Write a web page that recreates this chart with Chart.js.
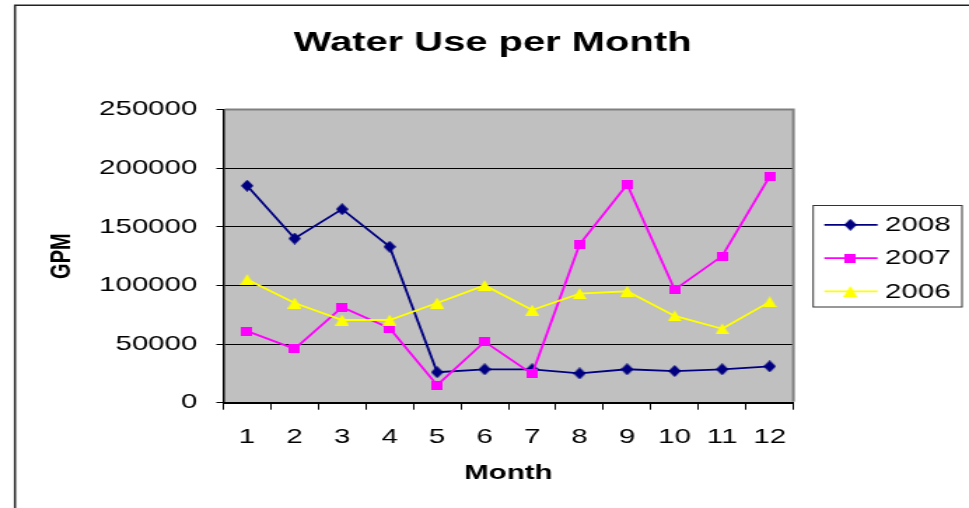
<!DOCTYPE html>
<html>
<head>
<meta charset="utf-8">
<script src="https://cdn.jsdelivr.net/npm/chart.js@4.4.1/dist/chart.umd.min.js"></script>
<style>
html,body{margin:0;padding:0;background:#fff;overflow:hidden;}
#wrap{width:692px;height:508px;transform:scaleX(1.40029);transform-origin:0 0;}
canvas{display:block;}
</style>
</head>
<body>
<div id="wrap"><canvas id="c" width="692" height="508" style="width:692px;height:508px"></canvas></div>
<script>
// ---- data ----
const months = ['1','2','3','4','5','6','7','8','9','10','11','12'];
const seriesLabels = ['2008','2007','2006'];
const values2008 = [185000,140000,165000,133000,26000,28500,28500,25000,28500,27000,28500,31000];
const values2007 = [61000,46000,81500,63500,15000,52000,24500,135000,186000,96500,125000,193000];
const values2006 = [105000,85000,70500,70500,85000,100000,79000,93000,95000,74000,63000,86000];
const yTickValues = [0,50000,100000,150000,200000,250000];
const titleText = 'Water Use per Month';
const xTitle = 'Month';
const yTitle = 'GPM';

const FONT = '"Liberation Sans", Arial, sans-serif';

function makeMarker(shape, w, h, color) {
  const c = document.createElement('canvas');
  c.width = w; c.height = h;
  const g = c.getContext('2d');
  g.fillStyle = color;
  g.beginPath();
  if (shape === 'diamond') {
    g.moveTo(w/2, 0); g.lineTo(w, h/2); g.lineTo(w/2, h); g.lineTo(0, h/2);
  } else if (shape === 'square') {
    g.rect(0, 0, w, h);
  } else {
    g.moveTo(w/2, 0); g.lineTo(w, h); g.lineTo(0, h);
  }
  g.closePath();
  g.fill();
  return c;
}

const mDiamond = makeMarker('diamond', 9, 12, '#000080');
const mSquare = makeMarker('square', 8, 9, '#FF00FF');
const mTri = makeMarker('tri', 10, 11, '#FFFF00');

const framePlugin = {
  id: 'frame',
  beforeDraw(chart) {
    const {ctx, chartArea: a, width, height} = chart;
    ctx.save();
    ctx.fillStyle = '#fff';
    ctx.fillRect(0, 0, width, height);
    ctx.strokeStyle = '#222';
    ctx.lineWidth = 1.5;
    ctx.beginPath();
    ctx.moveTo(10.7, height + 5);
    ctx.lineTo(10.7, 5.2);
    ctx.lineTo(width + 5, 5.2);
    ctx.stroke();
    ctx.fillStyle = '#C0C0C0';
    ctx.fillRect(a.left, a.top, a.right - a.left, a.bottom - a.top);
    ctx.restore();
  },
  beforeDatasetsDraw(chart) {
    const {ctx, chartArea: a} = chart;
    ctx.save();
    ctx.strokeStyle = '#808080';
    ctx.lineWidth = 2;
    ctx.beginPath();
    ctx.moveTo(a.left + 1, a.top);
    ctx.lineTo(a.right, a.top);
    ctx.lineTo(a.right, a.bottom - 1);
    ctx.stroke();
    ctx.restore();
  },
  afterDraw(chart) {
    const {ctx, chartArea: a} = chart;
    const lx = a.right + 14.1, ly = a.top + 96;
    ctx.save();
    ctx.strokeStyle = '#333';
    ctx.lineWidth = 1;
    ctx.strokeRect(lx, ly, 106.3, 101.5);
    chart.data.datasets.forEach((ds, i) => {
      const y = ly + 19.3 + i * 33.3;
      ctx.strokeStyle = ds.borderColor;
      ctx.lineWidth = 1.8;
      ctx.beginPath();
      ctx.moveTo(lx + 8, y);
      ctx.lineTo(lx + 46, y);
      ctx.stroke();
      const img = ds.pointStyle;
      ctx.drawImage(img, lx + 26.6 - img.width/2, y - img.height/2);
      ctx.fillStyle = '#000';
      ctx.font = '21px ' + FONT;
      ctx.textBaseline = 'middle';
      ctx.textAlign = 'left';
      ctx.fillText(ds.label, lx + 51.4, y + 0.5);
    });
    ctx.restore();
  }
};

new Chart(document.getElementById('c'), {
  type: 'line',
  data: {
    labels: months,
    datasets: [
      {label: seriesLabels[0], data: values2008, borderColor: '#000080', backgroundColor: '#000080', pointStyle: mDiamond, borderWidth: 1.8, pointRadius: 5, order: 3, yAxisID: 'y', tension: 0},
      {label: seriesLabels[1], data: values2007, borderColor: '#FF00FF', backgroundColor: '#FF00FF', pointStyle: mSquare, borderWidth: 1.8, pointRadius: 5, order: 2, yAxisID: 'y', tension: 0},
      {label: seriesLabels[2], data: values2006, borderColor: '#FFFF00', backgroundColor: '#FFFF00', pointStyle: mTri, borderWidth: 1.8, pointRadius: 5, order: 1, yAxisID: 'y', tension: 0}
    ]
  },
  options: {
    responsive: false,
    animation: false,
    events: [],
    layout: {padding: {left: 11.6, right: 0, top: 0, bottom: 22.4}},
    plugins: {
      legend: {display: false},
      tooltip: {enabled: false},
      title: {
        display: true,
        text: titleText,
        color: '#000',
        font: {family: FONT, size: 28.5, weight: 'bold', lineHeight: 1.2},
        padding: {top: 25.6, bottom: 49.7}
      }
    },
    scales: {
      x: {
        type: 'category',
        offset: true,
        grid: {display: true, offset: true, drawOnChartArea: false, drawTicks: true, tickLength: 7, color: '#000', lineWidth: 1},
        border: {display: true, color: '#000', width: 2},
        ticks: {color: '#000', font: {family: FONT, size: 21, lineHeight: 1.2}, padding: 14.7, autoSkip: false, maxRotation: 0, minRotation: 0},
        title: {display: true, text: xTitle, color: '#000', font: {family: FONT, size: 21, weight: 'bold', lineHeight: 1.2}, padding: {top: 0, bottom: 0}},
        afterFit(s) { s.height = 82.9; }
      },
      y: {
        type: 'linear',
        position: 'left',
        min: 0,
        max: 250000,
        afterBuildTicks(s) { s.ticks = yTickValues.map(v => ({value: v})); },
        grid: {display: true, drawTicks: true, tickLength: 5, color: '#000', lineWidth: 1},
        border: {display: true, color: '#000', width: 1.5},
        ticks: {color: '#000', font: {family: FONT, size: 21, lineHeight: 1.2}, padding: 13.6, callback: v => String(v)},
        title: {display: true, text: yTitle, color: '#000', font: {family: FONT, size: 20, weight: 'bold', lineHeight: 1.2}, padding: {top: 20.7, bottom: 0}},
        afterFit(s) { s.width = 147.9; }
      },
      pad: {
        type: 'linear',
        position: 'right',
        display: true,
        grid: {display: false},
        border: {display: false},
        ticks: {display: false},
        afterFit(s) { s.width = 125.4; }
      }
    }
  },
  plugins: [framePlugin]
});
</script>
</body>
</html>
